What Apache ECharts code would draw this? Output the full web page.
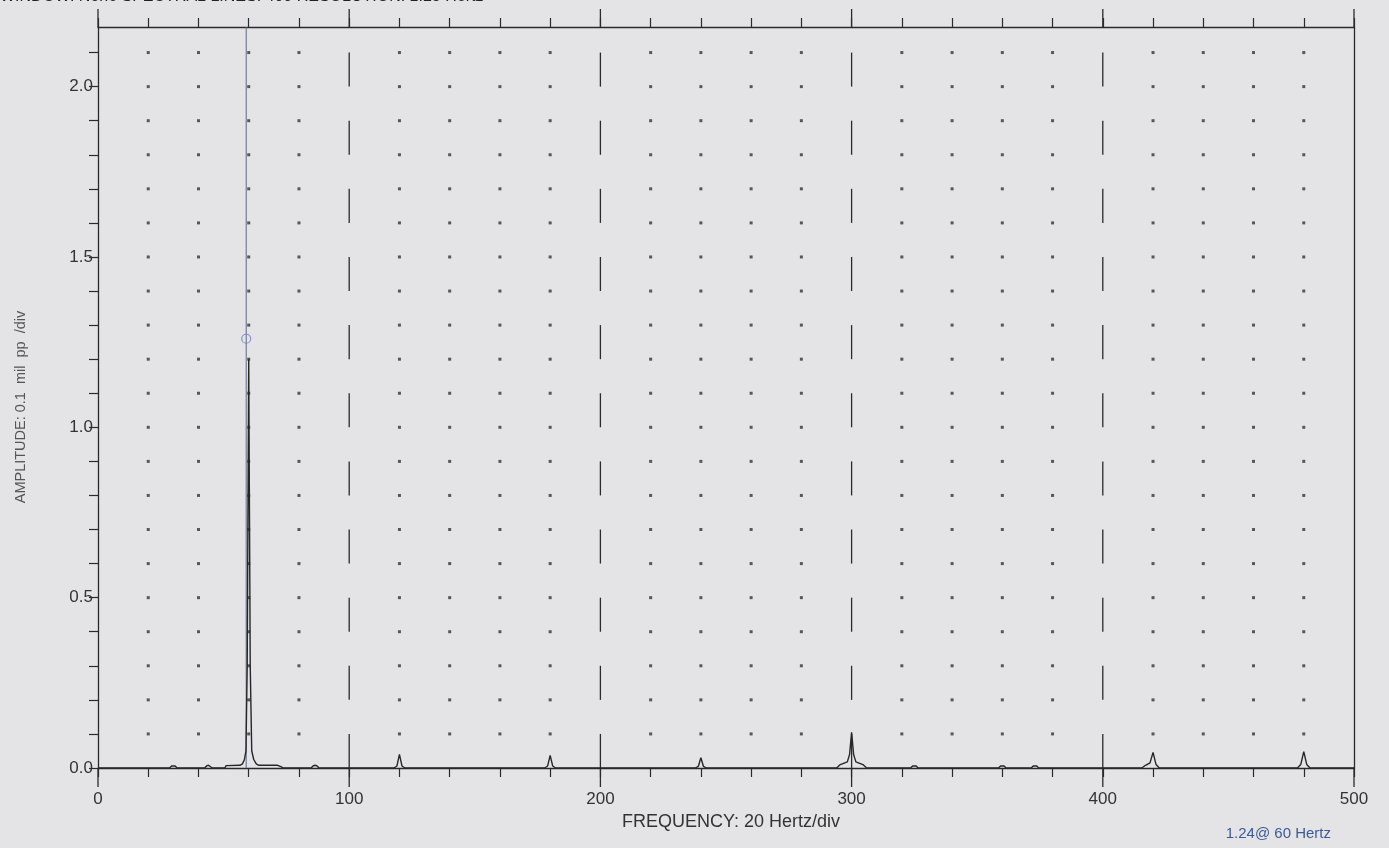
<!DOCTYPE html>
<html><head><meta charset="utf-8">
<script src="https://cdn.jsdelivr.net/npm/echarts@6/dist/echarts.min.js"></script>
<style>html,body{margin:0;padding:0;background:#e4e4e6;overflow:hidden}#c{width:1389px;height:848px;}</style>
</head><body><div id="c"></div>
<script>
// ---- axis ticks / labels ----
const xTicks = [0,20,40,60,80,100,120,140,160,180,200,220,240,260,280,300,320,340,360,380,400,420,440,460,480,500];
const xLabels = [0,100,200,300,400,500];
const yTicks = [0,0.1,0.2,0.3,0.4,0.5,0.6,0.7,0.8,0.9,1.0,1.1,1.2,1.3,1.4,1.5,1.6,1.7,1.8,1.9,2.0,2.1];
const yLabels = [0,0.5,1.0,1.5,2.0];
const yMax = 2.175;
const majorX = [0,100,200,300,400,500];
const dashX = [100,200,300,400];
const dashStarts = [0,0.2,0.4,0.6,0.8,1.0,1.2,1.4,1.6,1.8,2.0];
const dotX = [20,40,60,80,120,140,160,180,220,240,260,280,320,340,360,380,420,440,460,480];
const dotY = [0.1,0.2,0.3,0.4,0.5,0.6,0.7,0.8,0.9,1.0,1.1,1.2,1.3,1.4,1.5,1.6,1.7,1.8,1.9,2.0,2.1];

// ---- spectrum (Hz, amplitude) ----
const freq = [0, 28.5, 29.3, 30, 30.7, 31.5, 42.5, 43.2, 44, 44.7, 45.5,
  50.5, 51, 56.5, 57.5, 58.3, 58.9, 59.4, 60, 60.6, 61.2, 62, 63, 64, 70.2, 70.8, 71.5, 72.2, 73, 73.8,
  84.8, 85.6, 86.4, 87.2, 88,
  117.8, 119, 120, 121, 122.2,
  177.8, 179, 180, 181, 182.2,
  237.8, 239, 240, 241, 242.2,
  294, 295.5, 298.3, 299.2, 300, 300.8, 301.7, 304.5, 306,
  323.5, 324.3, 325, 325.7, 326.5,
  358.5, 359.3, 360, 360.7, 361.5,
  371.5, 372.3, 373, 373.7, 374.5,
  415.5, 417, 418.8, 420, 421.2, 422.5,
  477.5, 478.8, 480, 481.2, 482.5, 500];
const amp = [0, 0, 0.006, 0.008, 0.006, 0, 0, 0.006, 0.008, 0.006, 0,
  0, 0.007, 0.008, 0.012, 0.025, 0.05, 0.3, 1.2, 0.3, 0.05, 0.025, 0.012, 0.008, 0.008, 0.003, 0.008, 0.008, 0.003, 0,
  0, 0.006, 0.008, 0.006, 0,
  0, 0.006, 0.04, 0.006, 0,
  0, 0.006, 0.037, 0.006, 0,
  0, 0.005, 0.03, 0.005, 0,
  0, 0.01, 0.018, 0.04, 0.105, 0.04, 0.018, 0.01, 0,
  0, 0.006, 0.008, 0.006, 0,
  0, 0.006, 0.008, 0.006, 0,
  0, 0.006, 0.008, 0.006, 0,
  0, 0.008, 0.015, 0.046, 0.01, 0,
  0, 0.01, 0.048, 0.01, 0, 0];

// ---- cursor / readout ----
const cursorHz = 59;
const cursorAmp = 1.26;
const headerText = 'WINDOW: None SPECTRAL LINES: 400 RESOLUTION: 1.25 Hertz';
const yTitle = 'AMPLITUDE: 0.1  mil  pp  /div';
const xTitle = 'FREQUENCY: 20 Hertz/div';
const readout = '1.24@ 60 Hertz';

const FONT = '"Liberation Sans", Arial, sans-serif';
const INK = '#2a2a2a';

const dashData = [];
dashX.forEach(x => dashStarts.forEach(y0 => dashData.push([x, y0])));
const dotData = [];
dotX.forEach(x => dotY.forEach(y => dotData.push([x, y])));

const chart = echarts.init(document.getElementById('c'), null, {renderer: 'canvas'});
chart.setOption({
  backgroundColor: '#e4e4e6',
  animation: false,
  grid: {left: 98, right: 35, top: 27, bottom: 80, containLabel: false},
  xAxis: [{
    type: 'value', min: 0, max: 500, interval: 20, position: 'bottom',
    axisLine: {show: true, onZero: false, lineStyle: {color: INK, width: 1.3}},
    axisTick: {show: true, length: 9, customValues: xTicks, lineStyle: {color: INK, width: 1.2}},
    axisLabel: {customValues: xLabels, margin: 23, fontSize: 17, color: '#333', fontFamily: FONT},
    splitLine: {show: false}
  }, {
    type: 'value', min: 0, max: 500, interval: 20, position: 'top',
    axisLine: {show: true, onZero: false, lineStyle: {color: INK, width: 1.3}},
    axisTick: {show: true, length: 9, customValues: xTicks, lineStyle: {color: INK, width: 1.2}},
    axisLabel: {show: false}, splitLine: {show: false}
  }],
  yAxis: [{
    type: 'value', min: 0, max: yMax, position: 'left',
    axisLine: {show: true, onZero: false, lineStyle: {color: INK, width: 1.3}},
    axisTick: {show: true, length: 9, customValues: yTicks, lineStyle: {color: INK, width: 1.2}},
    axisLabel: {customValues: yLabels, margin: 5, fontSize: 17, color: '#333', fontFamily: FONT,
      formatter: v => v.toFixed(1)},
    splitLine: {show: false}
  }, {
    type: 'value', min: 0, max: yMax, position: 'right',
    axisLine: {show: true, onZero: false, lineStyle: {color: INK, width: 1.3}},
    axisTick: {show: false}, axisLabel: {show: false}, splitLine: {show: false}
  }],
  graphic: [
    {type: 'text', x: 0, y: 5, style: {text: headerText, font: '16px ' + FONT, fill: '#222', verticalAlign: 'bottom'}},
    {type: 'text', x: 21, y: 407, rotation: Math.PI / 2, style: {text: yTitle, font: '14.5px ' + FONT, fill: '#555', align: 'center', verticalAlign: 'middle'}},
    {type: 'text', x: 731, y: 822, style: {text: xTitle, font: '18px ' + FONT, fill: '#333', align: 'center', verticalAlign: 'middle'}},
    {type: 'text', x: 1331, y: 834, style: {text: readout, font: '15px ' + FONT, fill: '#3b5a98', align: 'right', verticalAlign: 'middle'}}
  ],
  series: [
    {
      type: 'scatter', data: dotData, symbol: 'rect', symbolSize: 3, silent: true,
      itemStyle: {color: '#333'}, z: 1
    },
    {
      type: 'custom', data: dashData, clip: false, silent: true, z: 2,
      renderItem: (params, api) => {
        const p1 = api.coord([api.value(0), api.value(1)]);
        const p2 = api.coord([api.value(0), api.value(1) + 0.1]);
        return {type: 'line', shape: {x1: p1[0], y1: p1[1], x2: p2[0], y2: p2[1]}, style: {stroke: INK, lineWidth: 1.3}};
      }
    },
    {
      type: 'custom', data: majorX.map(x => [x]), clip: false, silent: true, z: 3,
      renderItem: (params, api) => {
        const b = api.coord([api.value(0), 0]);
        const t = api.coord([api.value(0), yMax]);
        return {type: 'group', children: [
          {type: 'line', shape: {x1: b[0], y1: b[1], x2: b[0], y2: b[1] + 19}, style: {stroke: INK, lineWidth: 1.3}},
          {type: 'line', shape: {x1: t[0], y1: t[1] - 18, x2: t[0], y2: t[1]}, style: {stroke: INK, lineWidth: 1.3}}
        ]};
      }
    },
    {
      type: 'line', data: [[cursorHz, 0], [cursorHz, yMax]], showSymbol: false, silent: true, z: 4,
      lineStyle: {color: '#5e6782', width: 1}
    },
    {
      type: 'line', data: freq.map((f, i) => [f, amp[i]]), showSymbol: false, silent: true, z: 5,
      lineStyle: {color: '#262626', width: 1.4}
    },
    {
      type: 'scatter', data: [[cursorHz, cursorAmp]], symbol: 'circle', symbolSize: 9, silent: true, z: 6,
      itemStyle: {color: 'rgba(0,0,0,0)', borderColor: '#6f7fc8', borderWidth: 1.2}
    }
  ]
});
</script></body></html>
